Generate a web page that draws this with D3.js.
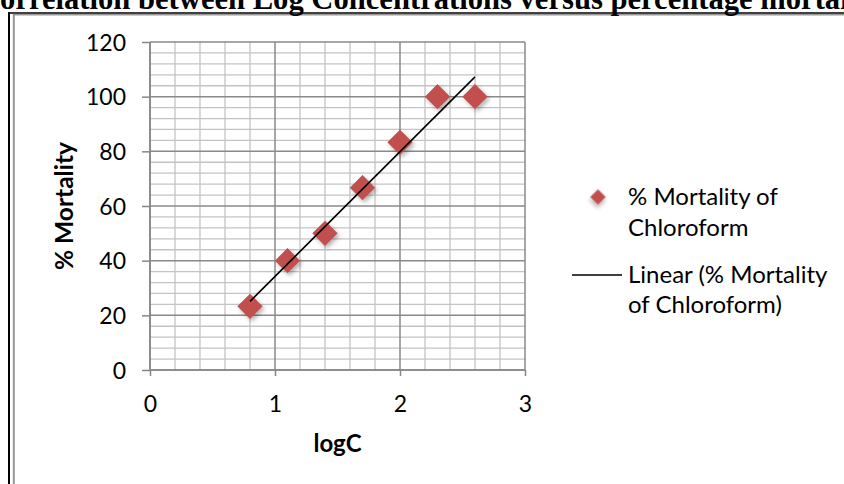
<!DOCTYPE html>
<html>
<head>
<meta charset="utf-8">
<script src="https://cdn.jsdelivr.net/npm/d3@7/dist/d3.min.js"></script>
<style>
  html, body { margin: 0; padding: 0; background: #fff; }
  svg { display: block; }
</style>
</head>
<body>
<svg id="chart" width="844" height="484"></svg>
<script>
// ---- data ----
const logC = [0.8, 1.1, 1.4, 1.7, 2.0, 2.3, 2.6];
const mortality = [23.3, 40, 50, 66.7, 83.3, 100, 100];
const xTicks = [0, 1, 2, 3];
const yTicks = [0, 20, 40, 60, 80, 100, 120];
const titleText = "Correlation between Log Concentrations versus percentage mortality";
const xTitle = "logC";
const yTitle = "% Mortality";
const legendSeries = ["% Mortality of", "Chloroform"];
const legendTrend = ["Linear (% Mortality", "of Chloroform)"];

const FONT = "Lato, 'Open Sans', sans-serif";
const svg = d3.select("#chart");
const W = 844, H = 484;

const defs = svg.append("defs");
const f = defs.append("filter").attr("id", "shadow").attr("x", "-50%").attr("y", "-50%").attr("width", "200%").attr("height", "200%");
f.append("feDropShadow").attr("dx", 2).attr("dy", 2.5).attr("stdDeviation", 2).attr("flood-color", "#000").attr("flood-opacity", 0.3);

// page frame (double border)
svg.append("line").attr("x1", 8).attr("x2", W).attr("y1", 13).attr("y2", 13).attr("stroke", "#000").attr("stroke-width", 1.5);
svg.append("line").attr("x1", 13).attr("x2", W).attr("y1", 14.8).attr("y2", 14.8).attr("stroke", "#999").attr("stroke-width", 1.5);
svg.append("line").attr("x1", 9).attr("x2", 9).attr("y1", 12.3).attr("y2", H).attr("stroke", "#000").attr("stroke-width", 2);
svg.append("line").attr("x1", 13.8).attr("x2", 13.8).attr("y1", 14).attr("y2", H).attr("stroke", "#999").attr("stroke-width", 2);

// title (page heading, partly outside the visible area as in the reference)
svg.append("text").attr("x", -22).attr("y", 8.5)
  .attr("font-family", "'Liberation Serif', 'Times New Roman', serif")
  .attr("font-weight", "bold").attr("font-size", 30.6).attr("fill", "#000")
  .text(titleText);

// scales
const x = d3.scaleLinear().domain([0, 3]).range([150, 525]);
const y = d3.scaleLinear().domain([0, 120]).range([370, 42]);

// grid
const g = svg.append("g");
const xMinor = d3.range(0, 3.0001, 0.2).filter(v => Math.abs(v - Math.round(v)) > 1e-6);
const yMinor = d3.range(0, 120.0001, 4).filter(v => v % 20 !== 0);
g.selectAll(".vminor").data(xMinor).join("line")
  .attr("x1", d => x(d)).attr("x2", d => x(d)).attr("y1", y(0)).attr("y2", y(120))
  .attr("stroke", "#c4c4c4").attr("stroke-width", 1.3);
g.selectAll(".hminor").data(yMinor).join("line")
  .attr("x1", x(0)).attr("x2", x(3)).attr("y1", d => y(d)).attr("y2", d => y(d))
  .attr("stroke", "#c4c4c4").attr("stroke-width", 1.3);
g.selectAll(".vmajor").data(xTicks).join("line")
  .attr("x1", d => x(d)).attr("x2", d => x(d)).attr("y1", y(0)).attr("y2", y(120))
  .attr("stroke", "#8a8a8a").attr("stroke-width", 1.5);
g.selectAll(".hmajor").data(yTicks).join("line")
  .attr("x1", x(0)).attr("x2", x(3)).attr("y1", d => y(d)).attr("y2", d => y(d))
  .attr("stroke", "#8a8a8a").attr("stroke-width", 1.5);

// axes
const xAxis = d3.axisBottom(x).tickValues(xTicks).tickSize(6).tickPadding(20).tickFormat(d3.format("d"));
const yAxis = d3.axisLeft(y).tickValues(yTicks).tickSize(8).tickPadding(16).tickFormat(d3.format("d"));
const gx = svg.append("g").attr("transform", `translate(0,${y(0)})`).call(xAxis);
const gy = svg.append("g").attr("transform", `translate(${x(0)},0)`).call(yAxis);
[gx, gy].forEach(a => {
  a.select(".domain").attr("stroke", "#868686").attr("stroke-width", 1.5);
  a.selectAll(".tick line").attr("stroke", "#868686").attr("stroke-width", 1.5);
  a.selectAll(".tick text").attr("font-family", FONT).attr("font-size", 23).attr("fill", "#000");
});
gx.select(".domain").attr("d", `M${x(0)},0H${x(3)}`);
gy.select(".domain").attr("d", `M0,${y(0)}V${y(120)}`);
gy.selectAll(".tick text").attr("dy", "0.36em");

// axis titles
svg.append("text").attr("x", x(1.5)).attr("y", 452).attr("text-anchor", "middle")
  .attr("font-family", FONT).attr("font-weight", "bold").attr("font-size", 24).text(xTitle);
svg.append("text").attr("transform", `translate(73,${y(60)}) rotate(-90)`).attr("text-anchor", "middle")
  .attr("font-family", FONT).attr("font-weight", "bold").attr("font-size", 24.5).text(yTitle);

// trendline (least squares on the data)
const mx = d3.mean(logC), my = d3.mean(mortality);
let sxy = 0, sxx = 0;
logC.forEach((v, i) => { sxy += (v - mx) * (mortality[i] - my); sxx += (v - mx) * (v - mx); });
const slope = sxy / sxx, intercept = my - slope * mx;
const xs = d3.extent(logC);

// markers
const diamond = d3.symbol().type(d3.symbolSquare).size(320);
svg.append("g").attr("filter", "url(#shadow)")
  .selectAll("path").data(logC).join("path")
  .attr("d", diamond)
  .attr("transform", (d, i) => `translate(${x(d)},${y(mortality[i])}) rotate(45)`)
  .attr("fill", "#C0504D");
svg.append("line")
  .attr("x1", x(xs[0])).attr("y1", y(intercept + slope * xs[0]))
  .attr("x2", x(xs[1])).attr("y2", y(intercept + slope * xs[1]))
  .attr("stroke", "#000").attr("stroke-width", 1.6);

// legend
const lg = svg.append("g");
lg.append("path").attr("d", d3.symbol().type(d3.symbolSquare).size(120))
  .attr("transform", "translate(598,197) rotate(45)").attr("fill", "#C0504D").attr("filter", "url(#shadow)");
legendSeries.forEach((t, i) => lg.append("text").attr("x", 628).attr("y", 205 + i * 31)
  .attr("font-family", FONT).attr("font-size", 24).text(t));
lg.append("line").attr("x1", 572).attr("x2", 622).attr("y1", 275).attr("y2", 275)
  .attr("stroke", "#000").attr("stroke-width", 1.6);
legendTrend.forEach((t, i) => lg.append("text").attr("x", 628).attr("y", 283 + i * 30)
  .attr("font-family", FONT).attr("font-size", 24).text(t));
</script>
</body>
</html>
